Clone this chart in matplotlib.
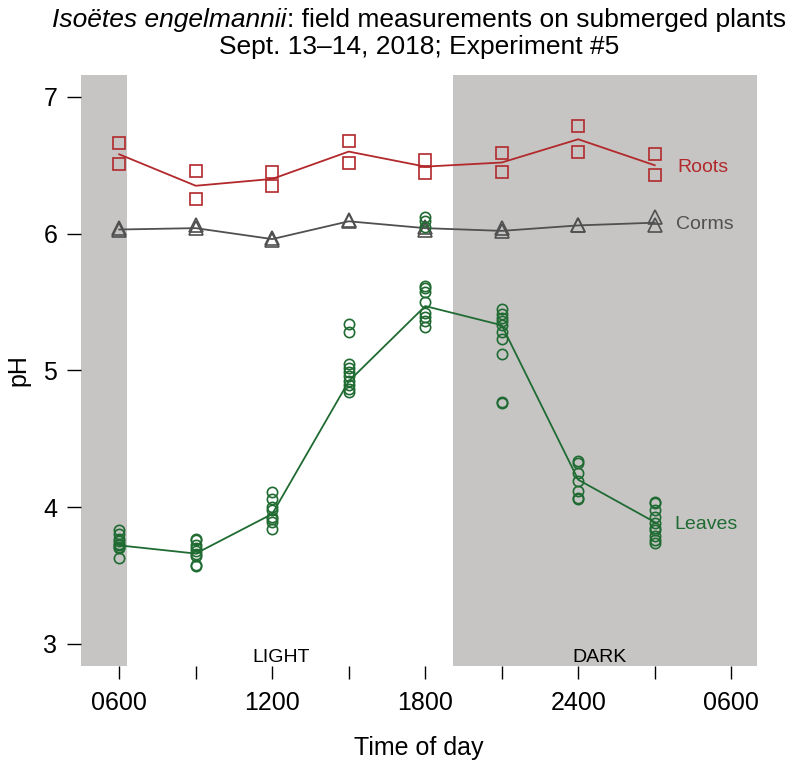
import matplotlib
matplotlib.use("Agg")
import matplotlib.pyplot as plt

plt.rcParams['font.family'] = ['Liberation Sans', 'DejaVu Sans']

# sampling times (hours, 24+ = next day)
times = [6, 9, 12, 15, 18, 21, 24, 27]

# roots: two readings per time + plotted mean line
root_pts = [[6.66, 6.51], [6.46, 6.25], [6.45, 6.35], [6.68, 6.52],
            [6.54, 6.44], [6.59, 6.45], [6.79, 6.60], [6.58, 6.43]]
root_line = [6.58, 6.35, 6.40, 6.60, 6.49, 6.52, 6.69, 6.50]

# corms
corm_pts = [[6.04, 6.03], [6.06, 6.04], [5.97, 5.95], [6.10, 6.09],
            [6.05, 6.03], [6.04, 6.02], [6.06, 6.06], [6.12, 6.06]]
corm_line = [6.03, 6.04, 5.96, 6.09, 6.04, 6.02, 6.06, 6.08]

# leaves
leaf_pts = [
    [3.83, 3.80, 3.77, 3.75, 3.73, 3.72, 3.71, 3.70, 3.63],
    [3.77, 3.76, 3.72, 3.70, 3.68, 3.66, 3.64, 3.58, 3.57],
    [4.11, 4.06, 4.00, 3.98, 3.93, 3.91, 3.89, 3.84],
    [5.34, 5.28, 5.05, 5.02, 4.99, 4.96, 4.92, 4.89, 4.86, 4.84],
    [6.12, 6.09, 6.05, 5.62, 5.60, 5.57, 5.50, 5.42, 5.39, 5.36, 5.32],
    [5.45, 5.41, 5.38, 5.36, 5.33, 5.28, 5.23, 5.12, 4.77, 4.76],
    [4.34, 4.32, 4.25, 4.19, 4.12, 4.07, 4.06],
    [4.04, 4.03, 3.98, 3.93, 3.88, 3.85, 3.83, 3.79, 3.76, 3.74],
]
leaf_line = [3.72, 3.66, 3.95, 4.92, 5.47, 5.33, 4.20, 3.89]

sunrise, sunset = 6.31, 19.07
tick_pos = [6, 9, 12, 15, 18, 21, 24, 27, 30]
tick_lab = ["0600", "", "1200", "", "1800", "", "2400", "", "0600"]

red = "#B2282B"
green = "#1F6B32"
grey = "#505050"
shade = "#C6C5C4"

fig = plt.figure(figsize=(7.88, 7.62), dpi=100)
W, H = 788, 762
ax = fig.add_axes([81 / W, 1 - 665.7 / H, (756.7 - 81) / W, (665.7 - 75) / H])
ax.set_xlim(4.5, 31)
ax.set_ylim(2.84, 7.16)

ax.axvspan(4.5, sunrise, color=shade, lw=0, zorder=0)
ax.axvspan(sunset, 31, color=shade, lw=0, zorder=0)


def draw(pts, line, color, marker, ms):
    for t, ys in zip(times, pts):
        ax.plot([t] * len(ys), ys, ls='none', marker=marker, ms=ms,
                mfc='none', mec=color, mew=1.2, zorder=3)
    ax.plot(times, line, color=color, lw=1.3, zorder=2)


draw(root_pts, root_line, red, 's', 8.6)
draw(corm_pts, corm_line, grey, '^', 10)
draw(leaf_pts, leaf_line, green, 'o', 7.4)

ax.text(27.9, root_line[-1], "Roots", color=red, fontsize=14, va='center_baseline')
ax.text(27.85, corm_line[-1], "Corms", color=grey, fontsize=14, va='center_baseline')
ax.text(27.78, leaf_line[-1], "Leaves", color=green, fontsize=14, va='center_baseline')

ax.text(12.35, 2.87, "LIGHT", fontsize=14, ha='center', va='baseline')
ax.text(24.85, 2.87, "DARK", fontsize=14, ha='center', va='baseline')

for s in ax.spines.values():
    s.set_visible(False)
ax.set_xticks(tick_pos)
ax.set_xticklabels(tick_lab)
ax.set_yticks([3, 4, 5, 6, 7])
ax.tick_params(axis='x', length=9.5, width=1, pad=9, labelsize=18)
ax.tick_params(axis='y', length=10, width=1, pad=7, labelsize=18)
ax.set_xlabel("Time of day", fontsize=18, labelpad=15)
ax.set_ylabel("pH", fontsize=18, labelpad=9)

# two-part title, first part italic, centred over the plot
cx = 419 / W
t1 = fig.text(0, 1 - 20 / H, "Isoëtes engelmannii", fontsize=19,
              style='italic', va='center', ha='left')
t2 = fig.text(0, 1 - 20 / H, ": field measurements on submerged plants",
              fontsize=19, va='center', ha='left')
fig.canvas.draw()
r = fig.canvas.get_renderer()
w1 = t1.get_window_extent(r).width / W
w2 = t2.get_window_extent(r).width / W
x0 = cx - (w1 + w2) / 2
t1.set_x(x0)
t2.set_x(x0 + w1)
fig.text(cx, 1 - 47 / H, "Sept. 13–14, 2018; Experiment #5",
         fontsize=19, va='center', ha='center')

fig.savefig("out.png", dpi=100)
